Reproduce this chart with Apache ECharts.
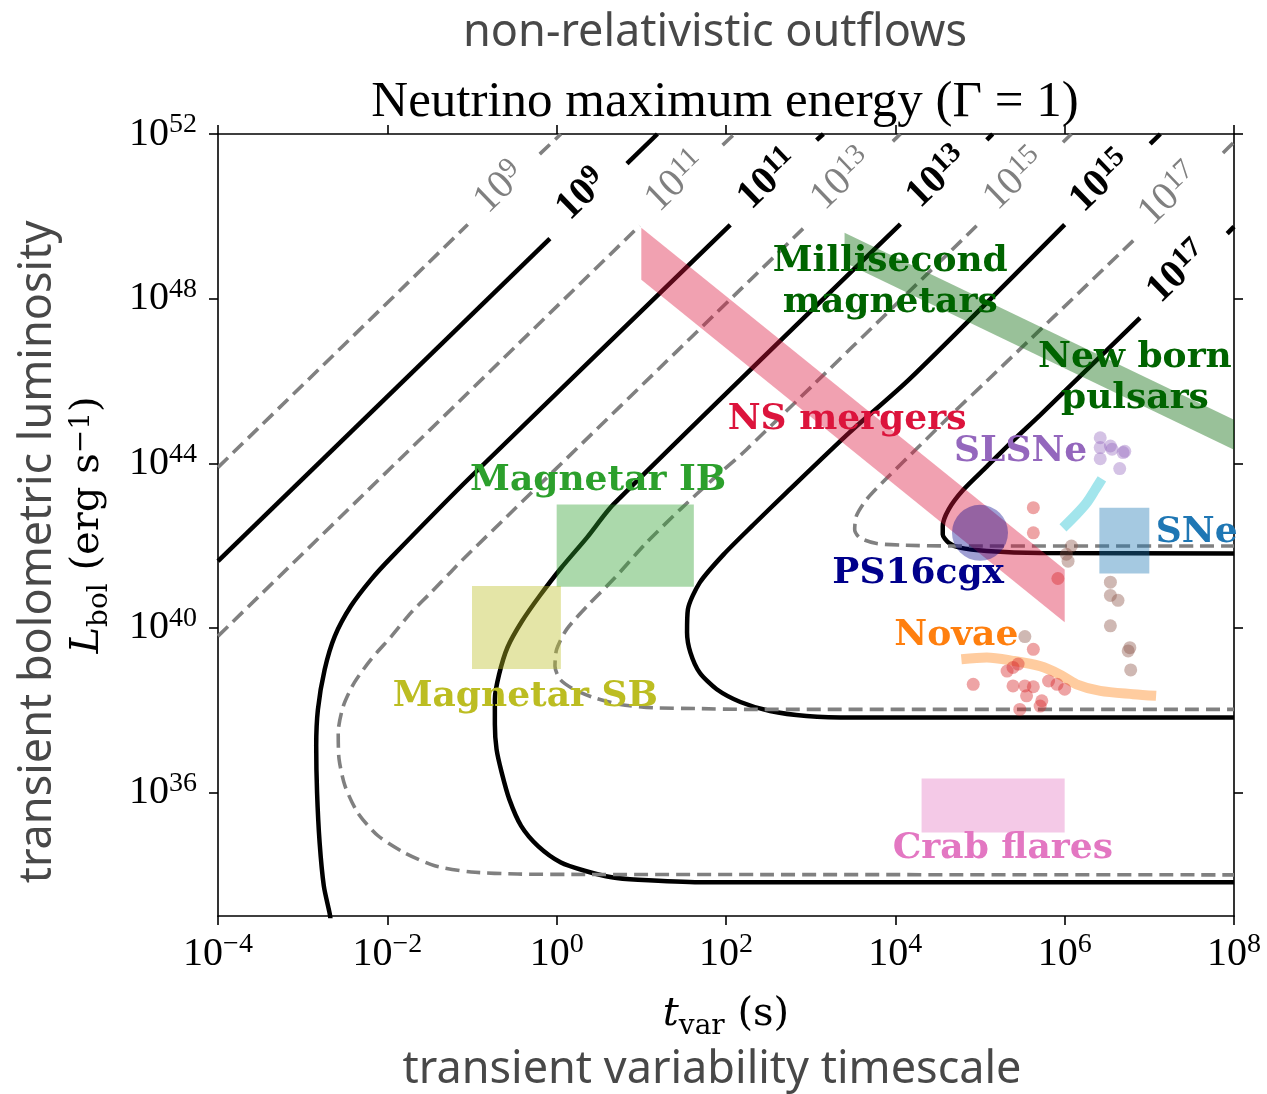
<!DOCTYPE html>
<html>
<head>
<meta charset="utf-8">
<script src="https://cdn.jsdelivr.net/npm/echarts@6/dist/echarts.min.js"></script>
<style>
  html, body { margin: 0; padding: 0; background: #fff; }
  #chart { width: 1267px; height: 1094px; }
</style>
</head>
<body>
<div id="chart"></div>
<script>
// Axes run in decades: x = log10 t_var (s), y = log10 L_bol (erg/s)
const xTickExp = [-4, -2, 0, 2, 4, 6, 8];
const yTickExp = [36, 40, 44, 48, 52];

// Maximum neutrino energy contours, [log10 t, log10 L]; null = gap for the in-line label
const solid9  = [[-4, 41.62], [-0.08, 49.46], null, [0.83, 51.28], [1.19, 52]];
const solid11 = [[3.15, 52], [3.07, 51.85], null, [2.05, 49.79], [-1.02, 43.66], [-1.95, 41.72], [-2.19, 41.18],
  [-2.43, 40.53], [-2.62, 39.80], [-2.74, 38.99], [-2.82, 38.02], [-2.84, 37.13], [-2.83, 36.00], [-2.80, 34.79],
  [-2.75, 33.73], [-2.68, 33.05], [-2.67, 32.9]];
const solid13 = [[5.15, 52], [5.08, 51.86], null, [4.06, 49.81], [0.67, 43.0], [0.36, 42.2], [0.05, 41.45],
  [-0.20, 40.78], [-0.41, 40.16], [-0.58, 39.53], [-0.68, 38.87], [-0.73, 38.26], [-0.73, 37.66], [-0.71, 37.05],
  [-0.65, 36.49], [-0.56, 35.84], [-0.42, 35.19], [-0.22, 34.70], [0.05, 34.30], [0.33, 34.10], [0.65, 33.94],
  [0.96, 33.88], [1.69, 33.82], [8, 33.82]];
const solid15 = [[7.13, 52], [7.01, 51.76], null, [6.0, 49.8], [4.17, 46.05], [3.46, 44.75], [2.72, 43.3],
  [2.32, 42.5], [1.97, 41.78], [1.69, 41.10], [1.55, 40.45], [1.54, 39.89], [1.58, 39.40], [1.69, 38.91],
  [1.89, 38.51], [2.17, 38.20], [2.52, 37.98], [2.95, 37.86], [3.50, 37.82], [8, 37.82]];
const solid17 = [[7.92, 49.58], [8, 49.75], null, [6.89, 47.53], [5.71, 45.17], [5.39, 44.55], [5.08, 43.92],
  [4.80, 43.35], [4.63, 42.88], [4.56, 42.47], [4.56, 42.27], [4.63, 42.07], [4.76, 41.95], [5.08, 41.87],
  [5.71, 41.82], [8, 41.81]];

const dash9  = [[-4, 43.9], [-1.05, 49.8], null, [-0.20, 51.51], [0.05, 52]];
const dash11 = [[-4, 39.8], [0.98, 49.77], null, [1.96, 51.73], [2.10, 52]];
const dash13 = [[4.06, 52], [3.97, 51.82], null, [2.91, 49.70], [-1.09, 41.70], [-1.25, 41.36], [-1.48, 40.87],
  [-1.72, 40.37], [-1.95, 39.80], [-2.19, 39.24], [-2.39, 38.67], [-2.52, 38.10], [-2.58, 37.46], [-2.57, 36.81],
  [-2.50, 36.16], [-2.35, 35.51], [-2.11, 34.95], [-1.80, 34.54], [-1.44, 34.22], [-1.01, 34.07], [-0.46, 34.02],
  [0.33, 34.01], [8, 34.0]];
const dash15 = [[6.08, 52], [5.98, 51.80], null, [4.96, 49.77], [2.24, 44.33], [1.85, 43.62], [1.46, 42.88],
  [1.06, 42.07], [0.67, 41.18], [0.36, 40.53], [0.12, 39.97], [0.0, 39.48], [-0.02, 39.07], [0.04, 38.75],
  [0.20, 38.51], [0.43, 38.31], [0.75, 38.14], [1.14, 38.06], [1.65, 38.04], [2.24, 38.02], [8, 38.02]];
const dash17 = [[7.87, 51.54], [8, 51.8], null, [6.81, 49.41], [5.08, 46.0], [4.68, 45.22], [4.29, 44.43],
  [3.90, 43.64], [3.66, 43.12], [3.54, 42.72], [3.52, 42.39], [3.58, 42.19], [3.78, 42.05], [4.09, 42.01],
  [4.68, 41.99], [8, 41.99]];

// Contour labels: exponent of E_max (eV) and where each sits
const contourExp   = [9, 11, 13, 15, 17];
const solidLabelAt = [[0.30, 50.52], [2.50, 50.89], [4.50, 50.94], [6.43, 50.84], [7.34, 48.63]];
const dashLabelAt  = [[-0.67, 50.69], [1.41, 50.84], [3.37, 50.89], [5.41, 50.89], [7.24, 50.52]];

// Source classes
const nsMergers   = [[1.0, 49.72], [6.0, 41.42], [6.0, 40.14], [1.0, 48.46]];
const msMagnetars = [[3.40, 49.60], [8.0, 45.06], [8.0, 44.33], [3.40, 48.88]];
const magnetarIB  = [[0.0, 41.0], [1.62, 43.0]];      // opposite corners
const magnetarSB  = [[-1.0, 39.0], [0.05, 41.02]];
const sneBox      = [[6.41, 41.32], [7.0, 42.92]];
const crabFlares  = [[4.31, 35.03], [6.0, 36.34]];
const slsneTrack  = [[5.98, 42.43], [6.14, 42.76], [6.26, 43.04], [6.36, 43.36], [6.44, 43.62]];
const novaeTrack  = [[4.78, 39.24], [5.08, 39.28], [5.39, 39.20], [5.71, 39.07], [5.94, 38.87], [6.14, 38.63],
  [6.42, 38.47], [6.81, 38.39], [7.08, 38.35]];
const slsneDots = [[6.42, 44.62], [6.54, 44.42], [6.71, 44.29], [6.42, 44.38], [6.56, 44.34], [6.69, 44.26],
  [6.42, 44.11], [6.65, 43.87]];
const novaDots = [[5.63, 42.92], [5.63, 42.31], [5.92, 41.20], [5.63, 39.48], [5.45, 39.12], [5.32, 38.95],
  [5.39, 39.04], [4.92, 38.63], [5.39, 38.59], [5.53, 38.59], [5.63, 38.57], [5.55, 38.35], [5.81, 38.71],
  [5.91, 38.63], [6.00, 38.51], [5.73, 38.23], [5.71, 38.10], [5.47, 38.02]];
const sneDots = [[6.08, 41.99], [6.02, 41.79], [6.04, 41.62], [6.54, 41.11], [6.54, 40.79], [6.63, 40.67],
  [6.54, 40.05], [6.77, 39.52], [6.75, 39.44], [6.78, 38.98], [5.53, 39.79]];
const ps16cgx = [[5.0, 42.31]];

const annotationText = ['Magnetar IB', 'Magnetar SB', 'NS mergers', 'Millisecond\nmagnetars', 'New born\npulsars',
  'SLSNe', 'SNe', 'PS16cgx', 'Novae', 'Crab flares'];
const annotationAt = [[0.49, 43.58], [-0.37, 38.32], [3.43, 45.06], [3.94, 48.41], [6.83, 46.08],
  [5.48, 44.29], [7.56, 42.32], [4.27, 41.32], [4.72, 39.80], [5.27, 34.63]];

// ---------- styling ----------
const TICK_FONT = "'Liberation Serif', 'Times New Roman', serif";
const TEXT_FONT = "'DejaVu Serif', serif";
const SANS_FONT = "'Noto Sans', 'Open Sans', sans-serif";
const annotationStyle = {
  'Magnetar IB': { color: '#2ca02c' },
  'Magnetar SB': { color: '#bcbd22' },
  'NS mergers': { color: '#dc143c' },
  'Millisecond\nmagnetars': { color: '#006400' },
  'New born\npulsars': { color: '#006400' },
  'SLSNe': { color: '#9467bd' },
  'SNe': { color: '#1f77b4' },
  'PS16cgx': { color: '#00008b' },
  'Novae': { color: '#ff7f0e' },
  'Crab flares': { color: '#e377c2' }
};

function powLabel(v) {
  const e = Math.round(v);
  return '{b|10}{s|' + (e < 0 ? '\u2212' + (-e) : e) + '}';
}
const tickRich = {
  b: { fontFamily: TICK_FONT, fontSize: 40, lineHeight: 46, verticalAlign: 'middle', color: '#000' },
  s: { fontFamily: TICK_FONT, fontSize: 28, lineHeight: 28, verticalAlign: 'top', color: '#000' }
};
const axisLine = { show: true, onZero: false, lineStyle: { color: '#000', width: 1.6 } };
const axisTick = { show: true, inside: false, length: 9, lineStyle: { color: '#000', width: 1.6 } };
const hiddenSymbol = { color: 'rgba(0,0,0,0)', opacity: 1 };

function runs(points) {
  const out = [[]];
  points.forEach(p => { if (p === null) out.push([]); else out[out.length - 1].push(p); });
  return out.filter(r => r.length > 1);
}

const series = [];
function addContour(points, solid) {
  runs(points).forEach(run => series.push({
    type: 'line', data: run, smooth: 0.25, symbol: 'none', showSymbol: false, silent: true, z: 2,
    lineStyle: solid ? { color: '#000', width: 4.5, type: 'solid', opacity: 1 }
                     : { color: '#808080', width: 3.6, type: [14, 7], opacity: 1 }
  }));
}
[solid9, solid11, solid13, solid15, solid17].forEach(c => addContour(c, true));
[dash9, dash11, dash13, dash15, dash17].forEach(c => addContour(c, false));

function polygon(points, fill) {
  series.push({
    type: 'custom', silent: true, z: 3, clip: true, data: [points[0]],
    renderItem: (params, api) => ({
      type: 'polygon',
      shape: { points: points.map(p => api.coord(p)) },
      style: { fill: fill }
    })
  });
}
function box(corners, fill) {
  const [[t0, l0], [t1, l1]] = corners;
  polygon([[t0, l0], [t1, l0], [t1, l1], [t0, l1]], fill);
}
polygon(nsMergers, 'rgba(220,20,60,0.4)');
polygon(msMagnetars, 'rgba(0,100,0,0.4)');
box(magnetarIB, 'rgba(44,160,44,0.4)');
box(magnetarSB, 'rgba(188,189,34,0.4)');
box(sneBox, 'rgba(31,119,180,0.4)');
box(crabFlares, 'rgba(227,119,194,0.4)');

function track(points, color) {
  series.push({ type: 'line', data: points, smooth: 0.3, symbol: 'none', silent: true, z: 4,
    lineStyle: { color: color, width: 10, cap: 'butt', opacity: 1 } });
}
track(slsneTrack, 'rgba(23,190,207,0.4)');
track(novaeTrack, 'rgba(255,127,14,0.4)');

function dots(points, color, size, z) {
  series.push({ type: 'scatter', data: points, symbol: 'circle', symbolSize: size, silent: true, z: z,
    itemStyle: { color: color, opacity: 1 } });
}
dots(slsneDots, 'rgba(148,103,189,0.4)', 13, 5);
dots(novaDots, 'rgba(214,39,40,0.42)', 13, 5);
dots(sneDots, 'rgba(140,86,75,0.42)', 13, 5);
dots(ps16cgx, 'rgba(0,0,139,0.38)', 56, 6);

function contourLabels(at, solid) {
  const color = solid ? '#000' : '#808080';
  const weight = solid ? 'bold' : 'normal';
  series.push({
    type: 'scatter', silent: true, z: 10, symbolSize: 1, itemStyle: hiddenSymbol,
    data: at.map((p, i) => ({ value: p, name: String(contourExp[i]) })),
    label: {
      show: true, position: 'inside', rotate: 44, opacity: 1,
      formatter: p => '{b|10}{s|' + p.name + '}',
      rich: {
        b: { fontFamily: TICK_FONT, fontSize: 40, fontWeight: weight, color: color, lineHeight: 44, verticalAlign: 'middle' },
        s: { fontFamily: TICK_FONT, fontSize: 29, fontWeight: weight, color: color, lineHeight: 28, verticalAlign: 'top' }
      }
    }
  });
}
contourLabels(solidLabelAt, true);
contourLabels(dashLabelAt, false);

series.push({
  type: 'scatter', silent: true, z: 11, symbolSize: 1, itemStyle: hiddenSymbol,
  data: annotationText.map((t, i) => ({
    value: annotationAt[i], name: t,
    label: Object.assign({ color: '#000' }, annotationStyle[t])
  })),
  label: {
    show: true, position: 'inside', formatter: p => p.name, opacity: 1,
    fontFamily: TEXT_FONT, fontWeight: 'bold', fontSize: 36, lineHeight: 41, align: 'center'
  }
});

const option = {
  animation: false,
  backgroundColor: '#ffffff',
  grid: { left: 218, top: 134, width: 1016, height: 782, containLabel: false },
  xAxis: [
    {
      type: 'value', min: -4, max: 8, interval: 2, position: 'bottom',
      axisLine: axisLine, axisTick: axisTick, splitLine: { show: false },
      axisLabel: { formatter: powLabel, rich: tickRich, margin: 15 },
      name: '{t|t}{sub|var}{n| (s)}', nameLocation: 'middle', nameGap: 79,
      nameTextStyle: {
        rich: {
          t: { fontFamily: TEXT_FONT, fontStyle: 'italic', fontSize: 40, lineHeight: 46, verticalAlign: 'top', color: '#000' },
          sub: { fontFamily: TEXT_FONT, fontSize: 28, lineHeight: 22, verticalAlign: 'bottom', color: '#000' },
          n: { fontFamily: TEXT_FONT, fontSize: 40, lineHeight: 46, verticalAlign: 'top', color: '#000' }
        }
      }
    },
    {
      type: 'value', min: -4, max: 8, interval: 2, position: 'top',
      axisLine: axisLine, axisTick: axisTick, splitLine: { show: false }, axisLabel: { show: false }
    }
  ],
  yAxis: [
    {
      type: 'value', min: 33, max: 52, position: 'left',
      axisLine: axisLine,
      axisTick: Object.assign({ customValues: yTickExp }, axisTick),
      splitLine: { show: false },
      axisLabel: { customValues: yTickExp, formatter: powLabel, rich: tickRich, margin: 21 },
      name: '{L|L}{sub|bol}{n| (erg s}{sup|\u22121}{n|)}', nameLocation: 'middle', nameGap: 104,
      nameTextStyle: {
        rich: {
          L: { fontFamily: TEXT_FONT, fontStyle: 'italic', fontSize: 40, lineHeight: 46, verticalAlign: 'top', color: '#000' },
          sub: { fontFamily: TEXT_FONT, fontSize: 28, lineHeight: 22, verticalAlign: 'bottom', color: '#000' },
          n: { fontFamily: TEXT_FONT, fontSize: 40, lineHeight: 46, verticalAlign: 'top', color: '#000' },
          sup: { fontFamily: TEXT_FONT, fontSize: 28, lineHeight: 26, verticalAlign: 'top', color: '#000' }
        }
      }
    },
    {
      type: 'value', min: 33, max: 52, position: 'right',
      axisLine: axisLine,
      axisTick: Object.assign({ customValues: yTickExp }, axisTick),
      splitLine: { show: false }, axisLabel: { show: false }
    }
  ],
  graphic: [
    { type: 'text', x: 715, y: 33, silent: true,
      style: { text: 'non-relativistic outflows', fontFamily: SANS_FONT, fontSize: 45, fill: '#484848',
               textAlign: 'center', textVerticalAlign: 'middle' } },
    { type: 'text', x: 725, y: 103, silent: true,
      style: { text: 'Neutrino maximum energy (\u0393 = 1)', fontFamily: TICK_FONT, fontSize: 51, fill: '#000',
               textAlign: 'center', textVerticalAlign: 'middle' } },
    { type: 'text', x: 38, y: 552, rotation: Math.PI / 2, silent: true,
      style: { text: 'transient bolometric luminosity', fontFamily: SANS_FONT, fontSize: 45, fill: '#484848',
               textAlign: 'center', textVerticalAlign: 'middle' } },
    { type: 'text', x: 712, y: 1070, silent: true,
      style: { text: 'transient variability timescale', fontFamily: SANS_FONT, fontSize: 45, fill: '#484848',
               textAlign: 'center', textVerticalAlign: 'middle' } }
  ],
  series: series
};

const chart = echarts.init(document.getElementById('chart'), null, { renderer: 'canvas' });
chart.setOption(option);
</script>
</body>
</html>
